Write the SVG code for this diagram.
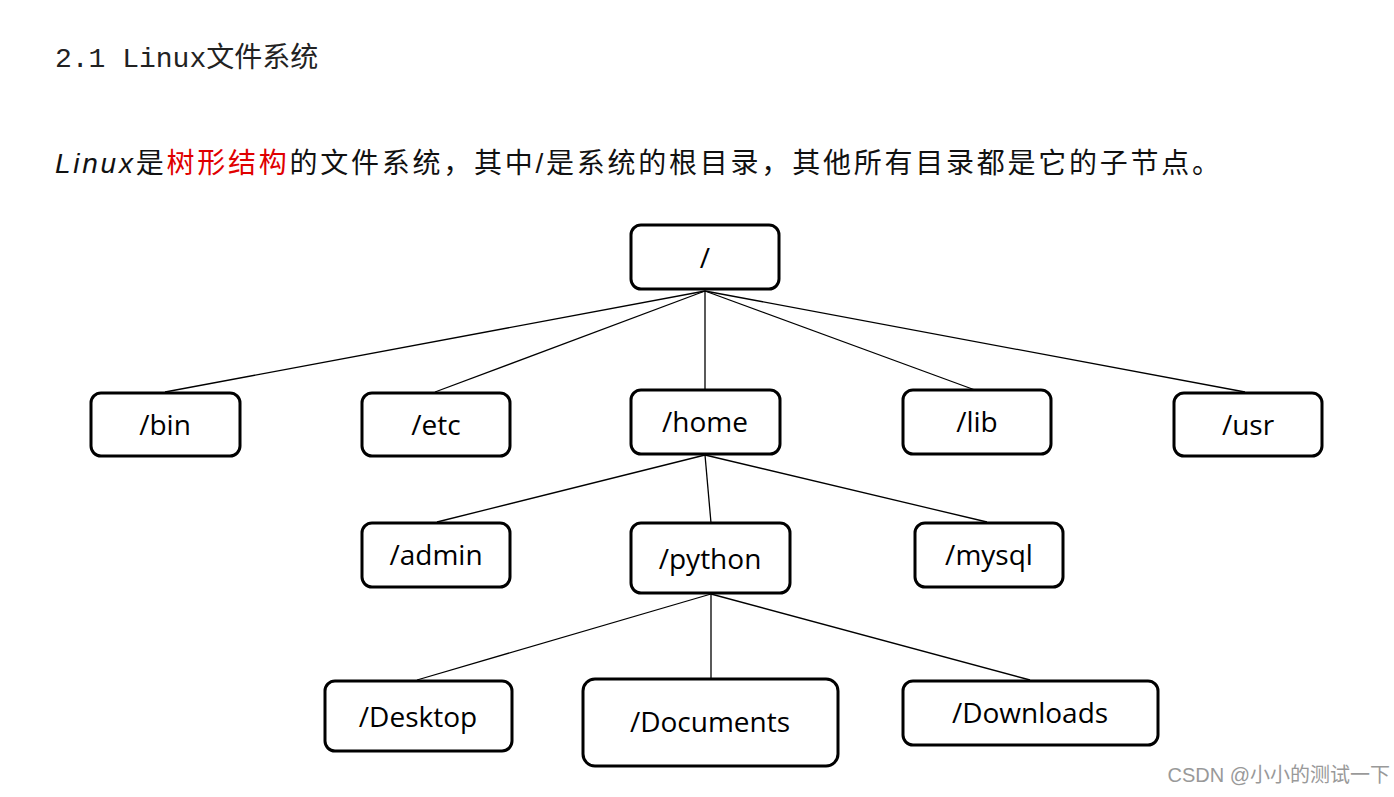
<svg xmlns="http://www.w3.org/2000/svg" width="1394" height="797" viewBox="0 0 1394 797">
<style>
.n rect{fill:#fff;stroke:#000;stroke-width:3}
.n text{font-family:"Open Sans","Noto Sans",sans-serif;font-size:28px;text-anchor:middle;fill:#000}
#edges line{stroke:#000;stroke-width:1.3}
</style>
<rect width="1394" height="797" fill="#fff"/>
<text x="55" y="67" font-family="'Liberation Mono','Noto Sans CJK SC',monospace" font-size="28" fill="#222">2.1 Linux文件系统</text>
<text x="55" y="173" font-family="'Liberation Sans','Noto Sans CJK SC',sans-serif" font-size="28" fill="#111" textLength="1165" lengthAdjust="spacing"><tspan font-style="italic">Linux</tspan>是<tspan fill="#e00000">树形结构</tspan>的文件系统，其中/是系统的根目录，其他所有目录都是它的子节点。</text>
<g id="edges">
<line x1="705" y1="291" x2="165" y2="392"/><line x1="705" y1="291" x2="435" y2="392"/><line x1="705" y1="291" x2="705" y2="390"/><line x1="705" y1="291" x2="975" y2="390"/><line x1="705" y1="291" x2="1245" y2="392"/>
<line x1="705" y1="455" x2="437" y2="522"/><line x1="705" y1="455" x2="711" y2="523"/><line x1="705" y1="455" x2="987" y2="522"/>
<line x1="711" y1="594" x2="417" y2="680"/><line x1="711" y1="594" x2="711" y2="679"/><line x1="711" y1="594" x2="1030" y2="680"/>
</g>
<g id="root" class="n"><rect x="631" y="225" width="148" height="64" rx="10"/><text x="705" y="268">/</text></g>
<g id="bin" class="n"><rect x="91" y="393" width="149" height="63" rx="10"/><text x="165" y="435">/bin</text></g>
<g id="etc" class="n"><rect x="362" y="393" width="148" height="63" rx="10"/><text x="436" y="435">/etc</text></g>
<g id="home" class="n"><rect x="631" y="390" width="149" height="64" rx="10"/><text x="705" y="432">/home</text></g>
<g id="lib" class="n"><rect x="903" y="390" width="148" height="64" rx="10"/><text x="977" y="432">/lib</text></g>
<g id="usr" class="n"><rect x="1174" y="393" width="148" height="63" rx="10"/><text x="1248" y="435">/usr</text></g>
<g id="admin" class="n"><rect x="362" y="523" width="148" height="64" rx="10"/><text x="436" y="565">/admin</text></g>
<g id="python" class="n"><rect x="631" y="523" width="159" height="70" rx="10"/><text x="710" y="569">/python</text></g>
<g id="mysql" class="n"><rect x="915" y="523" width="148" height="64" rx="10"/><text x="989" y="565">/mysql</text></g>
<g id="desktop" class="n"><rect x="325" y="681" width="187" height="70" rx="10"/><text x="418" y="727">/Desktop</text></g>
<g id="documents" class="n"><rect x="583" y="679" width="255" height="87" rx="12"/><text x="710" y="732">/Documents</text></g>
<g id="downloads" class="n"><rect x="903" y="681" width="255" height="64" rx="10"/><text x="1030" y="723">/Downloads</text></g>
<text x="1390" y="782" text-anchor="end" font-family="'Liberation Sans','Noto Sans CJK SC',sans-serif" font-size="20" fill="#999">CSDN @小小的测试一下</text>
</svg>
